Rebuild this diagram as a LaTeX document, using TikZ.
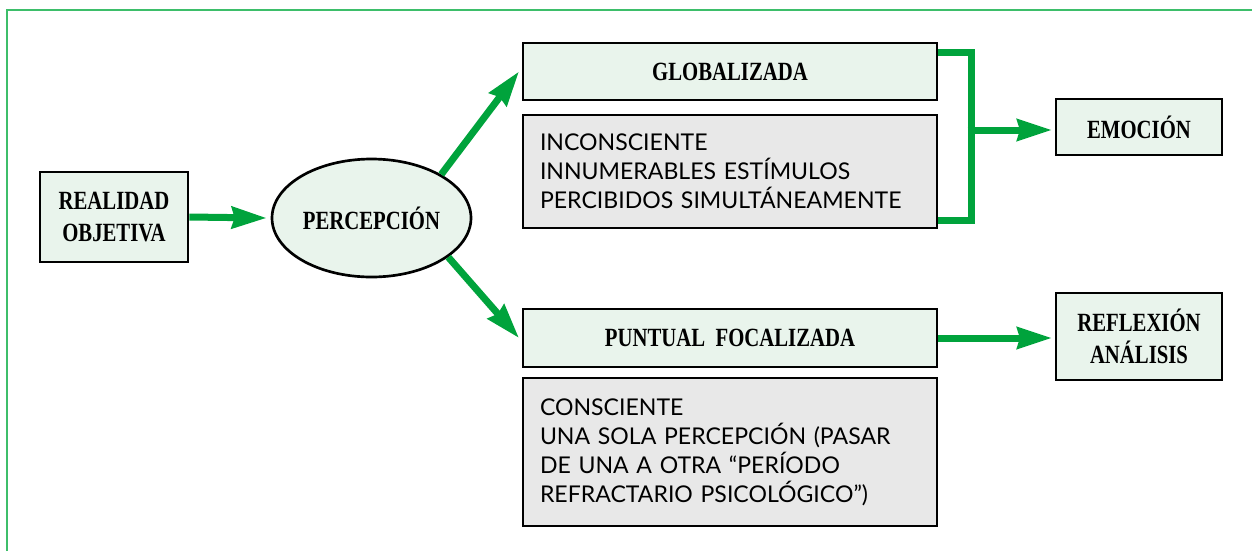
\documentclass[tikz,border=0pt]{standalone}
\usepackage{fontspec}
\setmainfont{Liberation Serif}[FakeStretch=0.79]
\newfontfamily\bodyfont{Lato}
\usetikzlibrary{shapes.geometric,arrows.meta}
\definecolor{gArrow}{HTML}{00A33C}
\definecolor{gFrame}{HTML}{3DBE6A}
\definecolor{gFill}{HTML}{E9F4EC}
\definecolor{grFill}{HTML}{E8E8E8}
\tikzset{
  head/.style={draw=black, line width=2pt, fill=gFill, inner sep=0pt, align=center,
     font=\fontsize{19.7}{24}\selectfont\bfseries},
  body/.style={draw=black, line width=2pt, fill=grFill, inner sep=0pt, align=left,
     text width=285pt, font=\bodyfont\fontsize{17.3}{21.75}\selectfont},
  garrow/.style={draw=gArrow, line width=5.25pt, -{Stealth[length=26pt,width=16pt,inset=2pt]}},
  gline/.style={draw=gArrow, line width=5.25pt}
}
\begin{document}
\begin{tikzpicture}[x=0.75pt,y=-0.75pt]
\useasboundingbox (0,0) rectangle (1252,551);
\draw[gFrame, line width=1.6pt] (7,551) -- (7,10) -- (1252,10);

\node[head, minimum width=111pt, minimum height=67.5pt] (real) at (114,217) {REALIDAD\\OBJETIVA};
\node[head, ellipse, minimum width=149.25pt, minimum height=88.5pt] (perc) at (371.5,218) {\makebox[0pt]{PERCEPCIÓN}};
\node[head, minimum width=310.5pt, minimum height=42.75pt] (glob) at (730,71.5) {GLOBALIZADA};
\node[body, minimum width=310.5pt, minimum height=84.75pt, text width=285pt] (inc) at (730,171.5)
  {INCONSCIENTE\\INNUMERABLES ESTÍMULOS\\PERCIBIDOS SIMULTÁNEAMENTE};
\node[head, minimum width=124.5pt, minimum height=42pt] (emo) at (1139,127) {EMOCIÓN};
\node[head, minimum width=310.5pt, minimum height=43.5pt] (punt) at (730,338) {PUNTUAL\ \ FOCALIZADA};
\node[body, minimum width=310.5pt, minimum height=111pt] (cons) at (730,452)
  {CONSCIENTE\\UNA SOLA PERCEPCIÓN (PASAR\\DE UNA A OTRA “PERÍODO\\REFRACTARIO PSICOLÓGICO”)};
\node[head, minimum width=124.5pt, minimum height=65.25pt] (refl) at (1139,336.5) {REFLEXIÓN\\ANÁLISIS};

\coordinate (bt) at (971,52);
\coordinate (bm) at (971,130);
\coordinate (bb) at (971,220);

\draw[garrow] (real.east) -- ([xshift=-3pt]perc.west);
\draw[garrow] (perc.32) -- ([xshift=-2pt]glob.west);
\draw[garrow] (perc.-27) -- ([xshift=-2pt]punt.west);
\draw[gline] (glob.east |- bt) -- (bt) -- (bb) -- (inc.east |- bb);
\draw[garrow] ([xshift=-2.6pt]bm) -- ([xshift=-2pt]emo.west |- bm);
\draw[garrow] (punt.east) -- ([xshift=-2pt]refl.west |- punt.east);
\end{tikzpicture}
\end{document}
